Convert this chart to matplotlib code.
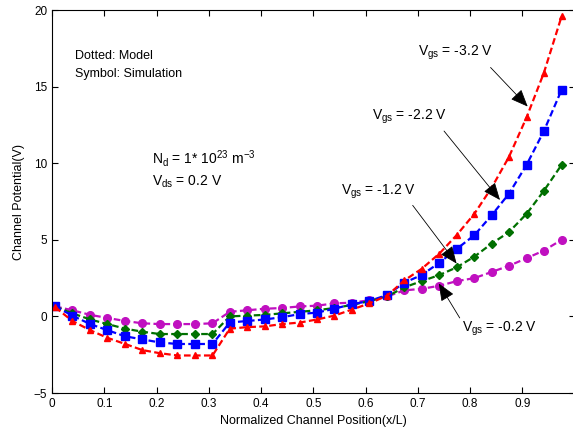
import numpy as np
import matplotlib
matplotlib.use("Agg")
import matplotlib.pyplot as plt

plt.rcParams['font.family'] = ['Liberation Sans', 'DejaVu Sans']
plt.rcParams['mathtext.fontset'] = 'custom'
plt.rcParams['mathtext.rm'] = 'Liberation Sans'
plt.rcParams['mathtext.it'] = 'Liberation Sans'

# Normalized channel position of the simulation points
x_pos = [0.006, 0.039, 0.073, 0.106, 0.140, 0.173, 0.206, 0.240, 0.273, 0.307,
         0.340, 0.373, 0.407, 0.440, 0.474, 0.507, 0.540, 0.574, 0.607, 0.641,
         0.674, 0.707, 0.741, 0.774, 0.808, 0.841, 0.874, 0.908, 0.941, 0.975]

# Channel potential (V) for each gate voltage
v_m32 = [0.6, -0.3, -0.9, -1.4, -1.8, -2.2, -2.4, -2.55, -2.55, -2.55,
         -0.8, -0.7, -0.65, -0.5, -0.4, -0.2, 0.05, 0.45, 0.85, 1.35,
         2.35, 3.1, 4.1, 5.3, 6.7, 8.4, 10.4, 13.0, 15.9, 19.6]
v_m22 = [0.65, 0.05, -0.5, -0.9, -1.3, -1.5, -1.7, -1.8, -1.8, -1.8,
         -0.4, -0.3, -0.2, -0.05, 0.15, 0.25, 0.5, 0.8, 1.0, 1.4,
         2.2, 2.7, 3.5, 4.4, 5.3, 6.6, 8.0, 9.9, 12.1, 14.8]
v_m12 = [0.65, 0.2, -0.2, -0.5, -0.8, -1.0, -1.15, -1.15, -1.15, -1.15,
         0.0, 0.05, 0.1, 0.2, 0.3, 0.4, 0.55, 0.75, 1.0, 1.3,
         1.9, 2.3, 2.7, 3.2, 3.9, 4.75, 5.5, 6.7, 8.2, 9.9]
v_m02 = [0.65, 0.4, 0.1, -0.1, -0.3, -0.45, -0.5, -0.5, -0.5, -0.45,
         0.3, 0.4, 0.5, 0.55, 0.65, 0.7, 0.85, 0.9, 1.05, 1.3,
         1.7, 1.8, 2.0, 2.3, 2.5, 2.9, 3.3, 3.8, 4.3, 5.0]

SERIES = [
    (v_m02, '#c010c0', 'o', 5.5),
    (v_m12, '#007000', 'D', 4.5),
    (v_m22, '#0000ff', 's', 5.8),
    (v_m32, '#ff0000', '^', 5.0),
]

fig = plt.figure(figsize=(5.73, 4.36), dpi=100)
ax = fig.add_axes([0.0908, 0.0986, 0.9122, 0.8784])

for vals, color, marker, ms in SERIES:
    ax.plot(x_pos, vals, color=color, linestyle='--', dashes=(3, 1.5), lw=1.6,
            marker=marker, markersize=ms, markerfacecolor=color,
            markeredgecolor=color)

ax.set_xlim(0, 1.0)
ax.set_ylim(-5, 20)
ax.set_xticks([0, 0.1, 0.2, 0.3, 0.4, 0.5, 0.6, 0.7, 0.8, 0.9])
ax.set_xticklabels(['0', '0.1', '0.2', '0.3', '0.4', '0.5', '0.6', '0.7', '0.8', '0.9'])
ax.set_yticks([-5, 0, 5, 10, 15, 20])
ax.tick_params(direction='in', top=True, right=True, labelsize=8.5, length=4,
               width=0.8)
for sp in ax.spines.values():
    sp.set_linewidth(0.8)

ax.set_xlabel('Normalized Channel Position(x/L)', fontsize=9, labelpad=4)
ax.set_ylabel('Channel Potential(V)', fontsize=9, labelpad=6)

ax.text(0.044, 17.0, 'Dotted: Model', fontsize=9, va='center')
ax.text(0.044, 15.85, 'Symbol: Simulation', fontsize=9, va='center')
ax.text(0.191, 10.3, r'N$_\mathrm{d}$ = 1* 10$^{23}$ m$^{-3}$', fontsize=10, va='center')
ax.text(0.191, 8.8, r'V$_\mathrm{ds}$ = 0.2 V', fontsize=10, va='center')

labels = [
    (r'V$_\mathrm{gs}$ = -3.2 V', (0.70, 17.2), (0.839, 16.25), (0.910, 13.7)),
    (r'V$_\mathrm{gs}$ = -2.2 V', (0.612, 13.0), (0.750, 12.1), (0.857, 7.6)),
    (r'V$_\mathrm{gs}$ = -1.2 V', (0.553, 8.1), (0.690, 7.25), (0.774, 3.45)),
    (r'V$_\mathrm{gs}$ = -0.2 V', (0.784, -0.8), (0.780, -0.1), (0.740, 2.15)),
]
for txt, tpos, start, end in labels:
    ax.text(tpos[0], tpos[1], txt, fontsize=10, va='center')
    ax.annotate('', xy=end, xytext=start,
                arrowprops=dict(arrowstyle='-|>,head_length=0.6,head_width=0.25',
                                color='k', lw=0.6, mutation_scale=18,
                                shrinkA=0, shrinkB=0))

fig.savefig('out.png', dpi=100)
